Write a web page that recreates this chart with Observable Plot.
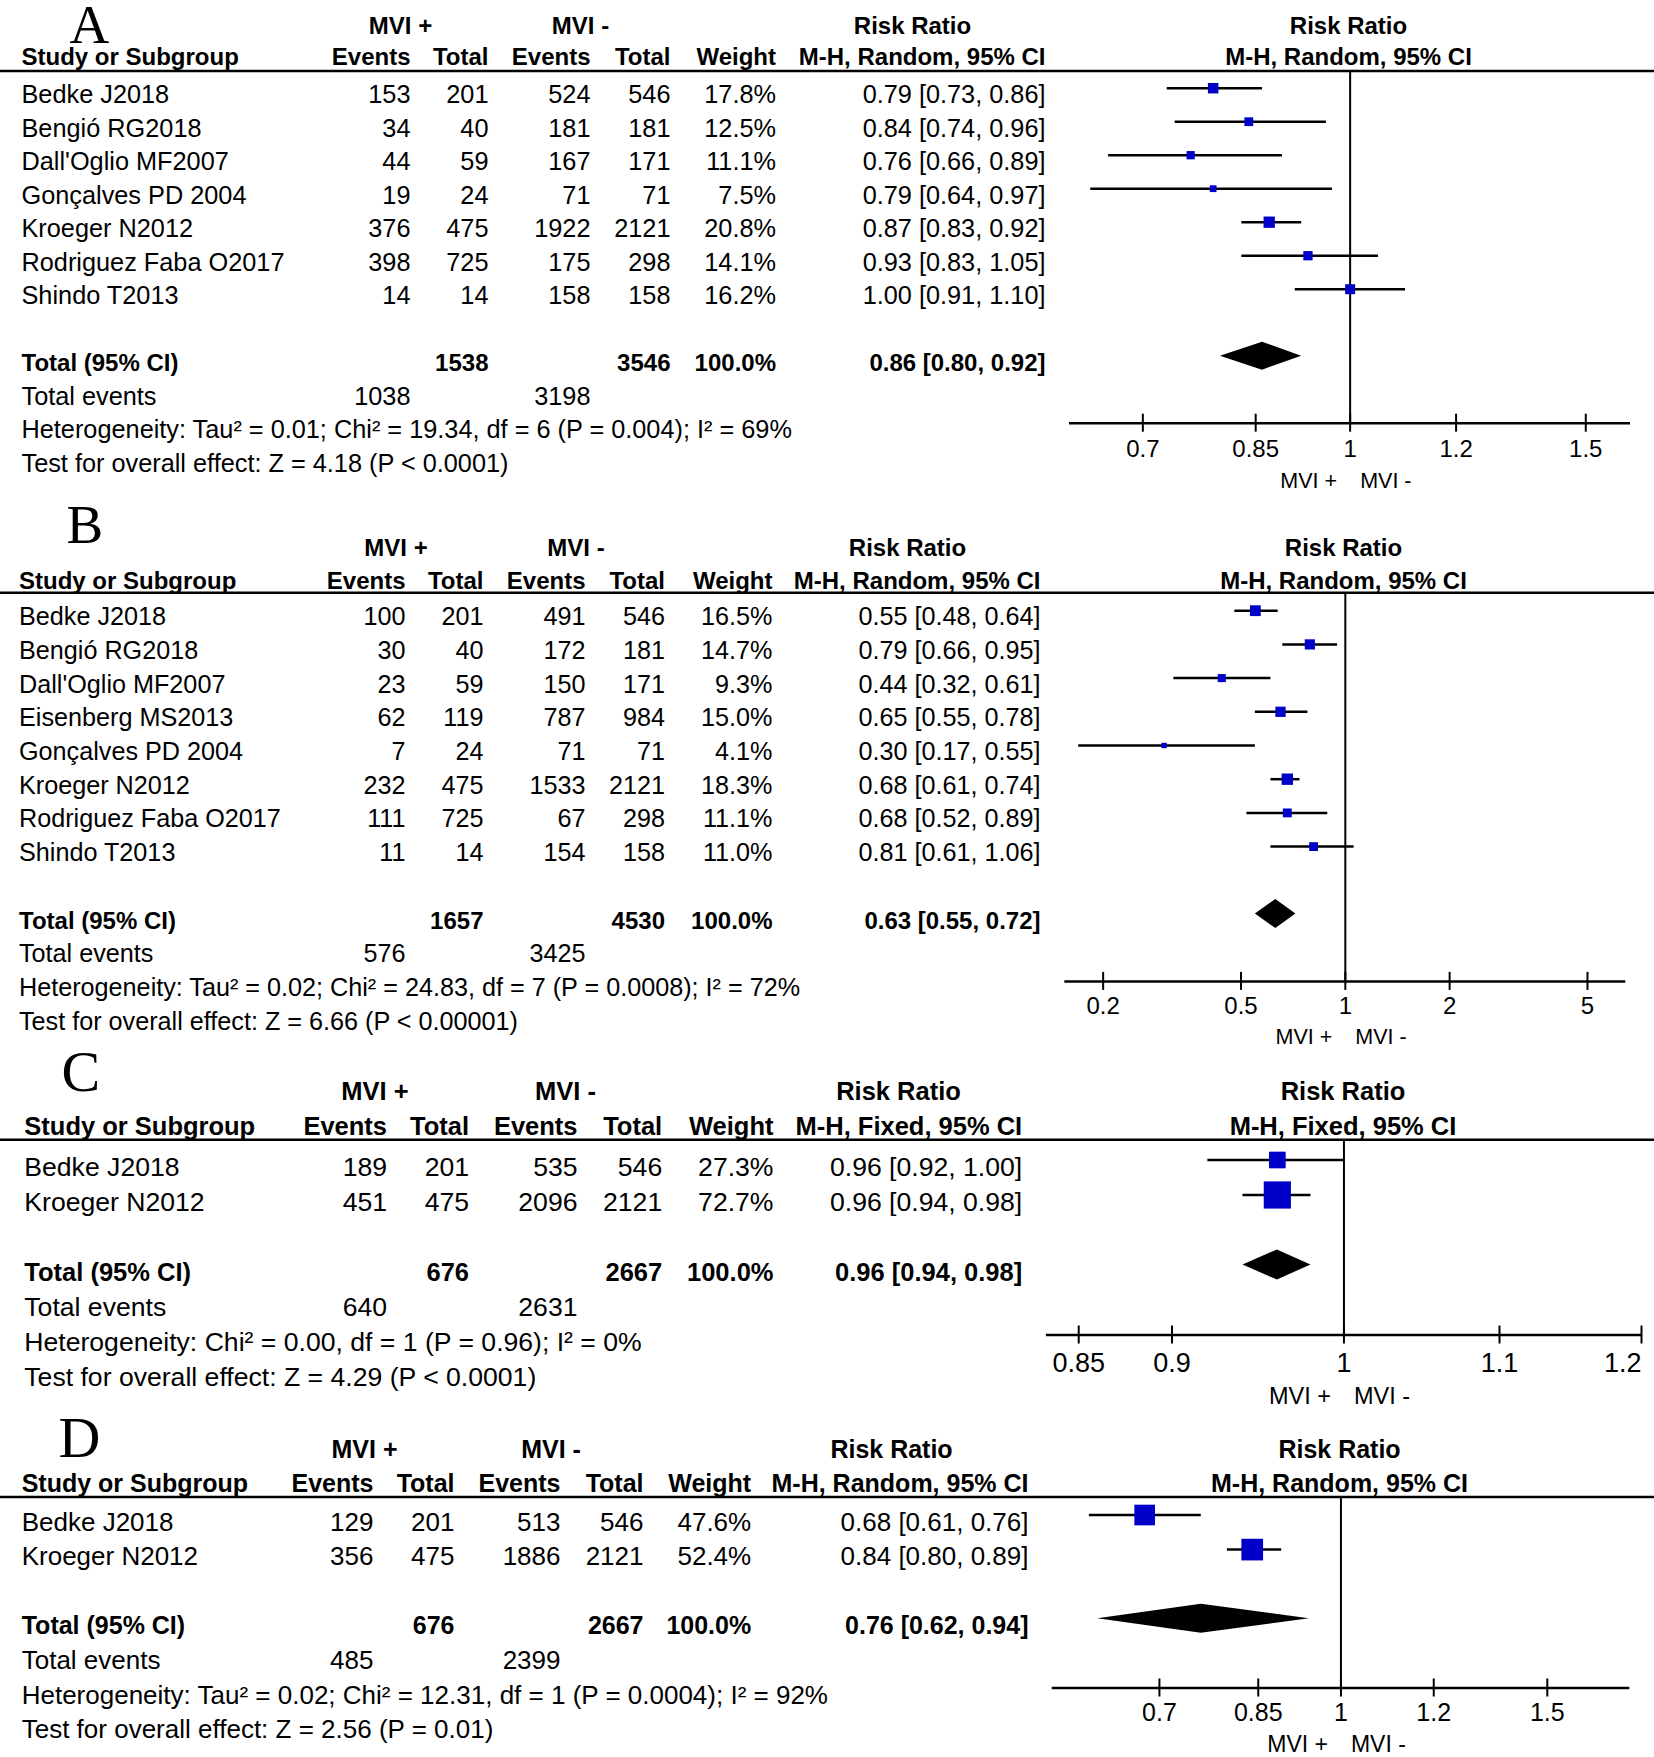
<!DOCTYPE html>
<html><head><meta charset="utf-8">
<script src="https://cdn.jsdelivr.net/npm/d3@7"></script>
<script src="https://cdn.jsdelivr.net/npm/@observablehq/plot@0.6"></script>
<style>
html,body{margin:0;padding:0;background:#fff;overflow:hidden;}
#page{position:relative;width:1654px;height:1757px;background:#fff;}
</style></head><body><div id="page"></div>
<script>
// ---------------- DATA ----------------
const panelLetters = ["A", "B", "C", "D"];
const groupLabels = ["MVI +", "MVI -"];
const columnHeads = ["Study or Subgroup", "Events", "Total", "Events", "Total", "Weight"];
const effectLabel = "Risk Ratio";

// Panel A
const A_names = ["Bedke J2018", "Bengió RG2018", "Dall'Oglio MF2007", "Gonçalves PD 2004", "Kroeger N2012", "Rodriguez Faba O2017", "Shindo T2013"];
const A_evPos = [153, 34, 44, 19, 376, 398, 14];
const A_totPos = [201, 40, 59, 24, 475, 725, 14];
const A_evNeg = [524, 181, 167, 71, 1922, 175, 158];
const A_totNeg = [546, 181, 171, 71, 2121, 298, 158];
const A_weight = [17.8, 12.5, 11.1, 7.5, 20.8, 14.1, 16.2];
const A_rr = [0.79, 0.84, 0.76, 0.79, 0.87, 0.93, 1.00];
const A_lo = [0.73, 0.74, 0.66, 0.64, 0.83, 0.83, 0.91];
const A_hi = [0.86, 0.96, 0.89, 0.97, 0.92, 1.05, 1.10];
const A_totalN = [1538, 3546];
const A_totalEvents = [1038, 3198];
const A_pooled = [0.86, 0.80, 0.92];
const A_method = "M-H, Random, 95% CI";
const A_het = "Heterogeneity: Tau² = 0.01; Chi² = 19.34, df = 6 (P = 0.004); I² = 69%";
const A_test = "Test for overall effect: Z = 4.18 (P < 0.0001)";
const A_ticks = [0.7, 0.85, 1, 1.2, 1.5];

// Panel B
const B_names = ["Bedke J2018", "Bengió RG2018", "Dall'Oglio MF2007", "Eisenberg MS2013", "Gonçalves PD 2004", "Kroeger N2012", "Rodriguez Faba O2017", "Shindo T2013"];
const B_evPos = [100, 30, 23, 62, 7, 232, 111, 11];
const B_totPos = [201, 40, 59, 119, 24, 475, 725, 14];
const B_evNeg = [491, 172, 150, 787, 71, 1533, 67, 154];
const B_totNeg = [546, 181, 171, 984, 71, 2121, 298, 158];
const B_weight = [16.5, 14.7, 9.3, 15.0, 4.1, 18.3, 11.1, 11.0];
const B_rr = [0.55, 0.79, 0.44, 0.65, 0.30, 0.68, 0.68, 0.81];
const B_lo = [0.48, 0.66, 0.32, 0.55, 0.17, 0.61, 0.52, 0.61];
const B_hi = [0.64, 0.95, 0.61, 0.78, 0.55, 0.74, 0.89, 1.06];
const B_totalN = [1657, 4530];
const B_totalEvents = [576, 3425];
const B_pooled = [0.63, 0.55, 0.72];
const B_method = "M-H, Random, 95% CI";
const B_het = "Heterogeneity: Tau² = 0.02; Chi² = 24.83, df = 7 (P = 0.0008); I² = 72%";
const B_test = "Test for overall effect: Z = 6.66 (P < 0.00001)";
const B_ticks = [0.2, 0.5, 1, 2, 5];

// Panel C
const C_names = ["Bedke J2018", "Kroeger N2012"];
const C_evPos = [189, 451];
const C_totPos = [201, 475];
const C_evNeg = [535, 2096];
const C_totNeg = [546, 2121];
const C_weight = [27.3, 72.7];
const C_rr = [0.96, 0.96];
const C_lo = [0.92, 0.94];
const C_hi = [1.00, 0.98];
const C_totalN = [676, 2667];
const C_totalEvents = [640, 2631];
const C_pooled = [0.96, 0.94, 0.98];
const C_method = "M-H, Fixed, 95% CI";
const C_het = "Heterogeneity: Chi² = 0.00, df = 1 (P = 0.96); I² = 0%";
const C_test = "Test for overall effect: Z = 4.29 (P < 0.0001)";
const C_ticks = [0.85, 0.9, 1, 1.1, 1.2];

// Panel D
const D_names = ["Bedke J2018", "Kroeger N2012"];
const D_evPos = [129, 356];
const D_totPos = [201, 475];
const D_evNeg = [513, 1886];
const D_totNeg = [546, 2121];
const D_weight = [47.6, 52.4];
const D_rr = [0.68, 0.84];
const D_lo = [0.61, 0.80];
const D_hi = [0.76, 0.89];
const D_totalN = [676, 2667];
const D_totalEvents = [485, 2399];
const D_pooled = [0.76, 0.62, 0.94];
const D_method = "M-H, Random, 95% CI";
const D_het = "Heterogeneity: Tau² = 0.02; Chi² = 12.31, df = 1 (P = 0.0004); I² = 92%";
const D_test = "Test for overall effect: Z = 2.56 (P = 0.01)";
const D_ticks = [0.7, 0.85, 1, 1.2, 1.5];

// ---------------- LAYOUT (page pixels) ----------------
const layouts = [
  {top:0, height:495, row0:87.7, rowH:33.5, textDy:15, letterX:69, letterBase:42, letterSize:55,
   hdr1:33, hdr2:64, lineY:70.6, nameX:21, cols:[410,488,590,670,775.5,1045], mviC:[400,580],
   rrHdrC:912, forestC:1348, fsReg:25.3, fsBold:24, fsTick:24, fsMvi:21.5,
   xDomain:[0.617,1.62], xRange:[1069,1630], tickDy:33.5, mviDy:64.5, rMax:14, diamondH:14, lastTickEnd:false},
  {top:495, height:552, row0:610.2, rowH:33.7, textDy:14.5, letterX:66, letterBase:542, letterSize:55,
   hdr1:555, hdr2:588, lineY:592.3, nameX:18.5, cols:[405,483,585,664.5,772,1040], mviC:[395.5,575.5],
   rrHdrC:907, forestC:1343, fsReg:25.2, fsBold:24, fsTick:24, fsMvi:21.5,
   xDomain:[0.155,6.45], xRange:[1064.3,1625.3], tickDy:32.5, mviDy:63, rMax:15, diamondH:14.5, lastTickEnd:false},
  {top:1047, height:365, row0:1159.5, rowH:35, textDy:15.5, letterX:61, letterBase:1090, letterSize:58,
   hdr1:1099.5, hdr2:1134, lineY:1139.3, nameX:23.8, cols:[386.5,468.5,577,661.7,773,1021.7], mviC:[374.5,565],
   rrHdrC:898, forestC:1342.5, fsReg:26.6, fsBold:25.5, fsTick:27, fsMvi:23.5,
   xDomain:[1/1.2,1.2], xRange:[1045.9,1641], tickDy:36.5, mviDy:68.5, rMax:18, diamondH:15, lastTickEnd:true},
  {top:1412, height:345, row0:1514.5, rowH:34.6, textDy:15.5, letterX:58, letterBase:1456.7, letterSize:58,
   hdr1:1457, hdr2:1491, lineY:1496.5, nameX:21.2, cols:[373,454,560,643,750.7,1028], mviC:[364,550.5],
   rrHdrC:891, forestC:1339, fsReg:26, fsBold:25, fsTick:25, fsMvi:23,
   xDomain:[0.567,1.764], xRange:[1051.7,1629.3], tickDy:32.5, mviDy:63.5, rMax:16.9, diamondH:14.5, lastTickEnd:false}
];

const panelsData = [
  {names:A_names, evPos:A_evPos, totPos:A_totPos, evNeg:A_evNeg, totNeg:A_totNeg, weight:A_weight, rr:A_rr, lo:A_lo, hi:A_hi, totalN:A_totalN, totalEvents:A_totalEvents, pooled:A_pooled, method:A_method, het:A_het, test:A_test, ticks:A_ticks},
  {names:B_names, evPos:B_evPos, totPos:B_totPos, evNeg:B_evNeg, totNeg:B_totNeg, weight:B_weight, rr:B_rr, lo:B_lo, hi:B_hi, totalN:B_totalN, totalEvents:B_totalEvents, pooled:B_pooled, method:B_method, het:B_het, test:B_test, ticks:B_ticks},
  {names:C_names, evPos:C_evPos, totPos:C_totPos, evNeg:C_evNeg, totNeg:C_totNeg, weight:C_weight, rr:C_rr, lo:C_lo, hi:C_hi, totalN:C_totalN, totalEvents:C_totalEvents, pooled:C_pooled, method:C_method, het:C_het, test:C_test, ticks:C_ticks},
  {names:D_names, evPos:D_evPos, totPos:D_totPos, evNeg:D_evNeg, totNeg:D_totNeg, weight:D_weight, rr:D_rr, lo:D_lo, hi:D_hi, totalN:D_totalN, totalEvents:D_totalEvents, pooled:D_pooled, method:D_method, het:D_het, test:D_test, ticks:D_ticks}
];

const BLUE = "#0000c8";
const SANS = "'Liberation Sans', Arial, sans-serif";
const SERIF = "'Liberation Serif', 'Times New Roman', serif";
const f2 = v => v.toFixed(2);
const fmtCI = (r, l, h) => `${f2(r)} [${f2(l)}, ${f2(h)}]`;

function buildPanel(letter, d, L) {
  const n = d.names.length;
  const toRow = px => (px - L.row0) / L.rowH;
  const rows = d.names.map((name, i) => ({
    row: i, name,
    ev1: String(d.evPos[i]), tot1: String(d.totPos[i]),
    ev2: String(d.evNeg[i]), tot2: String(d.totNeg[i]),
    w: d.weight[i].toFixed(1) + "%", weight: d.weight[i],
    rr: d.rr[i], lo: d.lo[i], hi: d.hi[i],
    ci: fmtCI(d.rr[i], d.lo[i], d.hi[i])
  }));
  const totalRow = n + 1, eventsRow = n + 2, hetRow = n + 3, testRow = n + 4, axisRow = n + 3;
  const [pr, pl, ph] = d.pooled;
  const total = [{row: totalRow, name: "Total (95% CI)", tot1: String(d.totalN[0]), tot2: String(d.totalN[1]),
                  w: "100.0%", ci: fmtCI(pr, pl, ph)}];
  const events = [{row: eventsRow, name: "Total events", ev1: String(d.totalEvents[0]), ev2: String(d.totalEvents[1])}];
  const notes = [{row: hetRow, name: d.het}, {row: testRow, name: d.test}];
  const dh = L.diamondH / L.rowH;
  const diamond = [
    {x: pl, y1: totalRow, y2: totalRow},
    {x: pr, y1: totalRow - dh, y2: totalRow + dh},
    {x: ph, y1: totalRow, y2: totalRow}
  ];
  const [cEv1, cTot1, cEv2, cTot2, cW, cCI] = L.cols;

  const col = (data, field, x, anchor, bold) => Plot.text(data, {
    frameAnchor: "left", y: "row", text: field, dx: x, dy: L.textDy,
    textAnchor: anchor, lineAnchor: "bottom", fill: "black",
    fontSize: bold ? L.fsBold : L.fsReg, fontWeight: bold ? "bold" : "normal"
  });
  const head = (label, x, base, anchor, opts = {}) => Plot.text([label], {
    frameAnchor: "top-left", text: t => t, dx: x, dy: base - L.top,
    textAnchor: anchor, lineAnchor: "bottom", fill: "black",
    fontSize: L.fsBold, fontWeight: "bold", ...opts
  });
  const tickHalf = 9 / L.rowH;
  const midTicks = L.lastTickEnd ? d.ticks.slice(0, -1) : d.ticks;
  const endTicks = L.lastTickEnd ? d.ticks.slice(-1) : [];
  const tickText = (data, anchor, dx) => Plot.text(data, {x: v => v, y: () => axisRow, text: v => String(v),
    dy: L.tickDy, dx, textAnchor: anchor, lineAnchor: "bottom", fontSize: L.fsTick, fill: "black"});

  const svg = Plot.plot({
    width: 1654, height: L.height, margin: 0,
    style: {fontFamily: SANS, background: "transparent", overflow: "visible", maxWidth: "none"},
    x: {type: "log", domain: L.xDomain, range: L.xRange, axis: null},
    y: {type: "linear", domain: [0, 1], range: [L.row0 - L.top, L.row0 - L.top + L.rowH], axis: null},
    r: {type: "sqrt", domain: [0, 100], range: [0, L.rMax]},
    marks: [
      // panel letter
      head(letter, L.letterX, L.letterBase, "start", {fontFamily: SERIF, fontWeight: "normal", fontSize: L.letterSize}),
      // header row 1
      head(groupLabels[0], L.mviC[0], L.hdr1, "middle"),
      head(groupLabels[1], L.mviC[1], L.hdr1, "middle"),
      head(effectLabel, L.rrHdrC, L.hdr1, "middle"),
      head(effectLabel, L.forestC, L.hdr1, "middle"),
      // header row 2
      head(columnHeads[0], L.nameX, L.hdr2, "start"),
      head(columnHeads[1], cEv1, L.hdr2, "end"),
      head(columnHeads[2], cTot1, L.hdr2, "end"),
      head(columnHeads[3], cEv2, L.hdr2, "end"),
      head(columnHeads[4], cTot2, L.hdr2, "end"),
      head(columnHeads[5], cW, L.hdr2, "end"),
      head(d.method, cCI, L.hdr2, "end"),
      head(d.method, L.forestC, L.hdr2, "middle"),
      // header rule
      Plot.ruleY([toRow(L.lineY)], {y: v => v, stroke: "black", strokeWidth: 2.5}),
      // study rows
      col(rows, "name", L.nameX, "start", false),
      col(rows, "ev1", cEv1, "end", false),
      col(rows, "tot1", cTot1, "end", false),
      col(rows, "ev2", cEv2, "end", false),
      col(rows, "tot2", cTot2, "end", false),
      col(rows, "w", cW, "end", false),
      col(rows, "ci", cCI, "end", false),
      // total row
      col(total, "name", L.nameX, "start", true),
      col(total, "tot1", cTot1, "end", true),
      col(total, "tot2", cTot2, "end", true),
      col(total, "w", cW, "end", true),
      col(total, "ci", cCI, "end", true),
      // events row
      col(events, "name", L.nameX, "start", false),
      col(events, "ev1", cEv1, "end", false),
      col(events, "ev2", cEv2, "end", false),
      // notes
      col(notes, "name", L.nameX, "start", false),
      // forest: line of no effect
      Plot.ruleX([1], {x: v => v, y1: () => toRow(L.lineY), y2: () => axisRow, stroke: "black", strokeWidth: 2}),
      // axis
      Plot.ruleY([axisRow], {y: v => v, x1: () => L.xDomain[0], x2: () => L.xDomain[1], stroke: "black", strokeWidth: 2.5}),
      Plot.ruleX(d.ticks, {x: v => v, y1: () => axisRow - tickHalf, y2: () => axisRow + tickHalf, stroke: "black", strokeWidth: 2}),
      tickText(midTicks, "middle", 0),
      tickText(endTicks, "end", 0),
      Plot.text([groupLabels[0]], {x: () => 1, y: () => axisRow, text: t => t, dx: -13, dy: L.mviDy, textAnchor: "end",
                          lineAnchor: "bottom", fontSize: L.fsMvi, fill: "black"}),
      Plot.text([groupLabels[1]], {x: () => 1, y: () => axisRow, text: t => t, dx: 10, dy: L.mviDy, textAnchor: "start",
                          lineAnchor: "bottom", fontSize: L.fsMvi, fill: "black"}),
      // confidence intervals and squares
      Plot.ruleY(rows, {y: "row", x1: "lo", x2: "hi", stroke: "black", strokeWidth: 2.5}),
      Plot.dot(rows, {x: "rr", y: "row", r: "weight", symbol: "square", fill: BLUE, stroke: "none"}),
      // pooled diamond
      Plot.areaY(diamond, {x: "x", y1: "y1", y2: "y2", fill: "black", curve: "linear"})
    ]
  });
  svg.style.position = "absolute";
  svg.style.left = "0px";
  svg.style.top = L.top + "px";
  return svg;
}

const page = document.getElementById("page");
panelLetters.forEach((letter, i) => {
  page.appendChild(buildPanel(letter, panelsData[i], layouts[i]));
});
</script></body></html>
